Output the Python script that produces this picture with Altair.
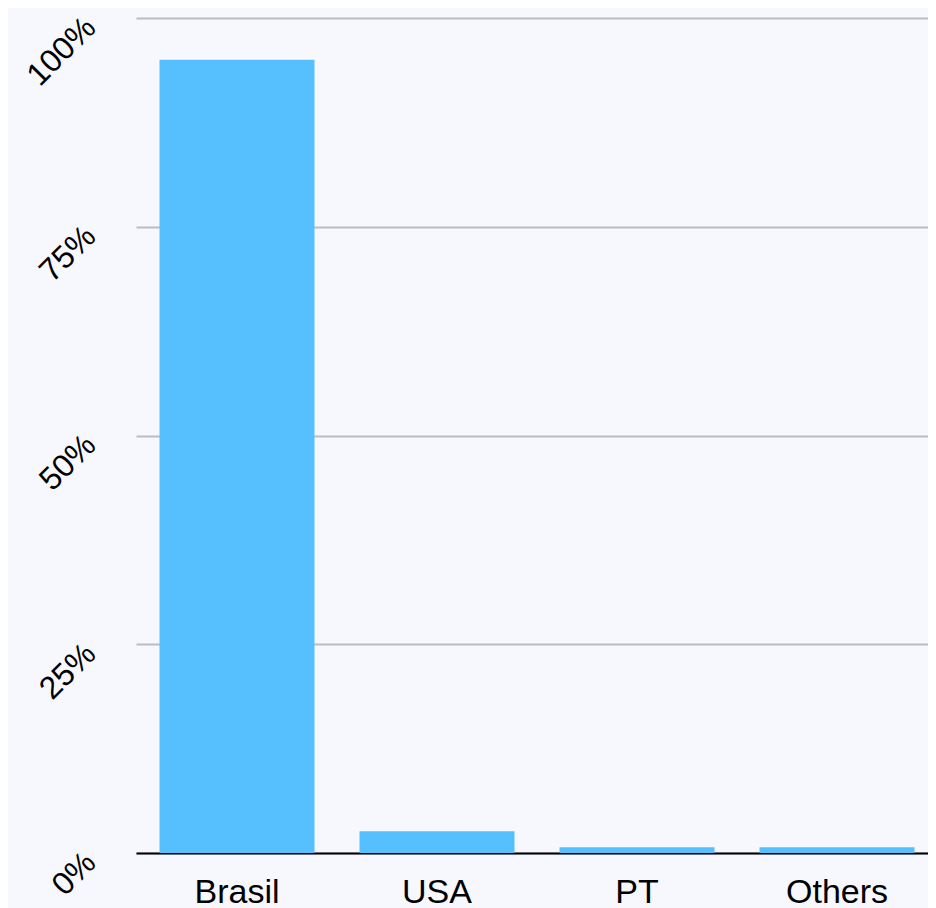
import altair as alt
import pandas as pd

categories = ["Brasil", "USA", "PT", "Others"]
shares = [0.95, 0.026, 0.007, 0.007]
y_ticks = [0, 0.25, 0.5, 0.75, 1.0]

df = pd.DataFrame({"country": categories, "share": shares})

chart = (
    alt.Chart(df)
    .mark_bar(color="#56BFFE", xOffset=5)
    .encode(
        x=alt.X(
            "country:N",
            sort=categories,
            scale=alt.Scale(paddingInner=0.225, paddingOuter=0.0925),
            axis=alt.Axis(
                title=None,
                labelAngle=0,
                labelFontSize=34,
                labelFont="Liberation Sans",
                labelColor="#000000",
                labelPadding=22,
                labelOffset=5,
                ticks=False,
                domainColor="#000000",
                domainWidth=2,
                grid=False,
            ),
        ),
        y=alt.Y(
            "share:Q",
            scale=alt.Scale(domain=[0, 1], nice=False),
            axis=alt.Axis(
                title=None,
                values=y_ticks,
                format=".0%",
                labelAngle=-45,
                labelFontSize=32,
                labelFont="Liberation Sans",
                labelColor="#000000",
                labelPadding=46,
                labelOffset=4,
                ticks=False,
                domain=False,
                grid=True,
                gridColor="#BBBBC2",
                gridWidth=2,
            ),
        ),
    )
    .properties(
        width=792,
        height=835,
        background="#F7F8FE",
        padding={"left": 128, "top": 10, "right": 0, "bottom": 55},
        autosize=alt.AutoSizeParams(type="none"),
    )
    .configure_view(stroke=None, fill="#F7F8FE")
)

chart.save("out.html", embed_options={"renderer": "svg", "actions": False})
